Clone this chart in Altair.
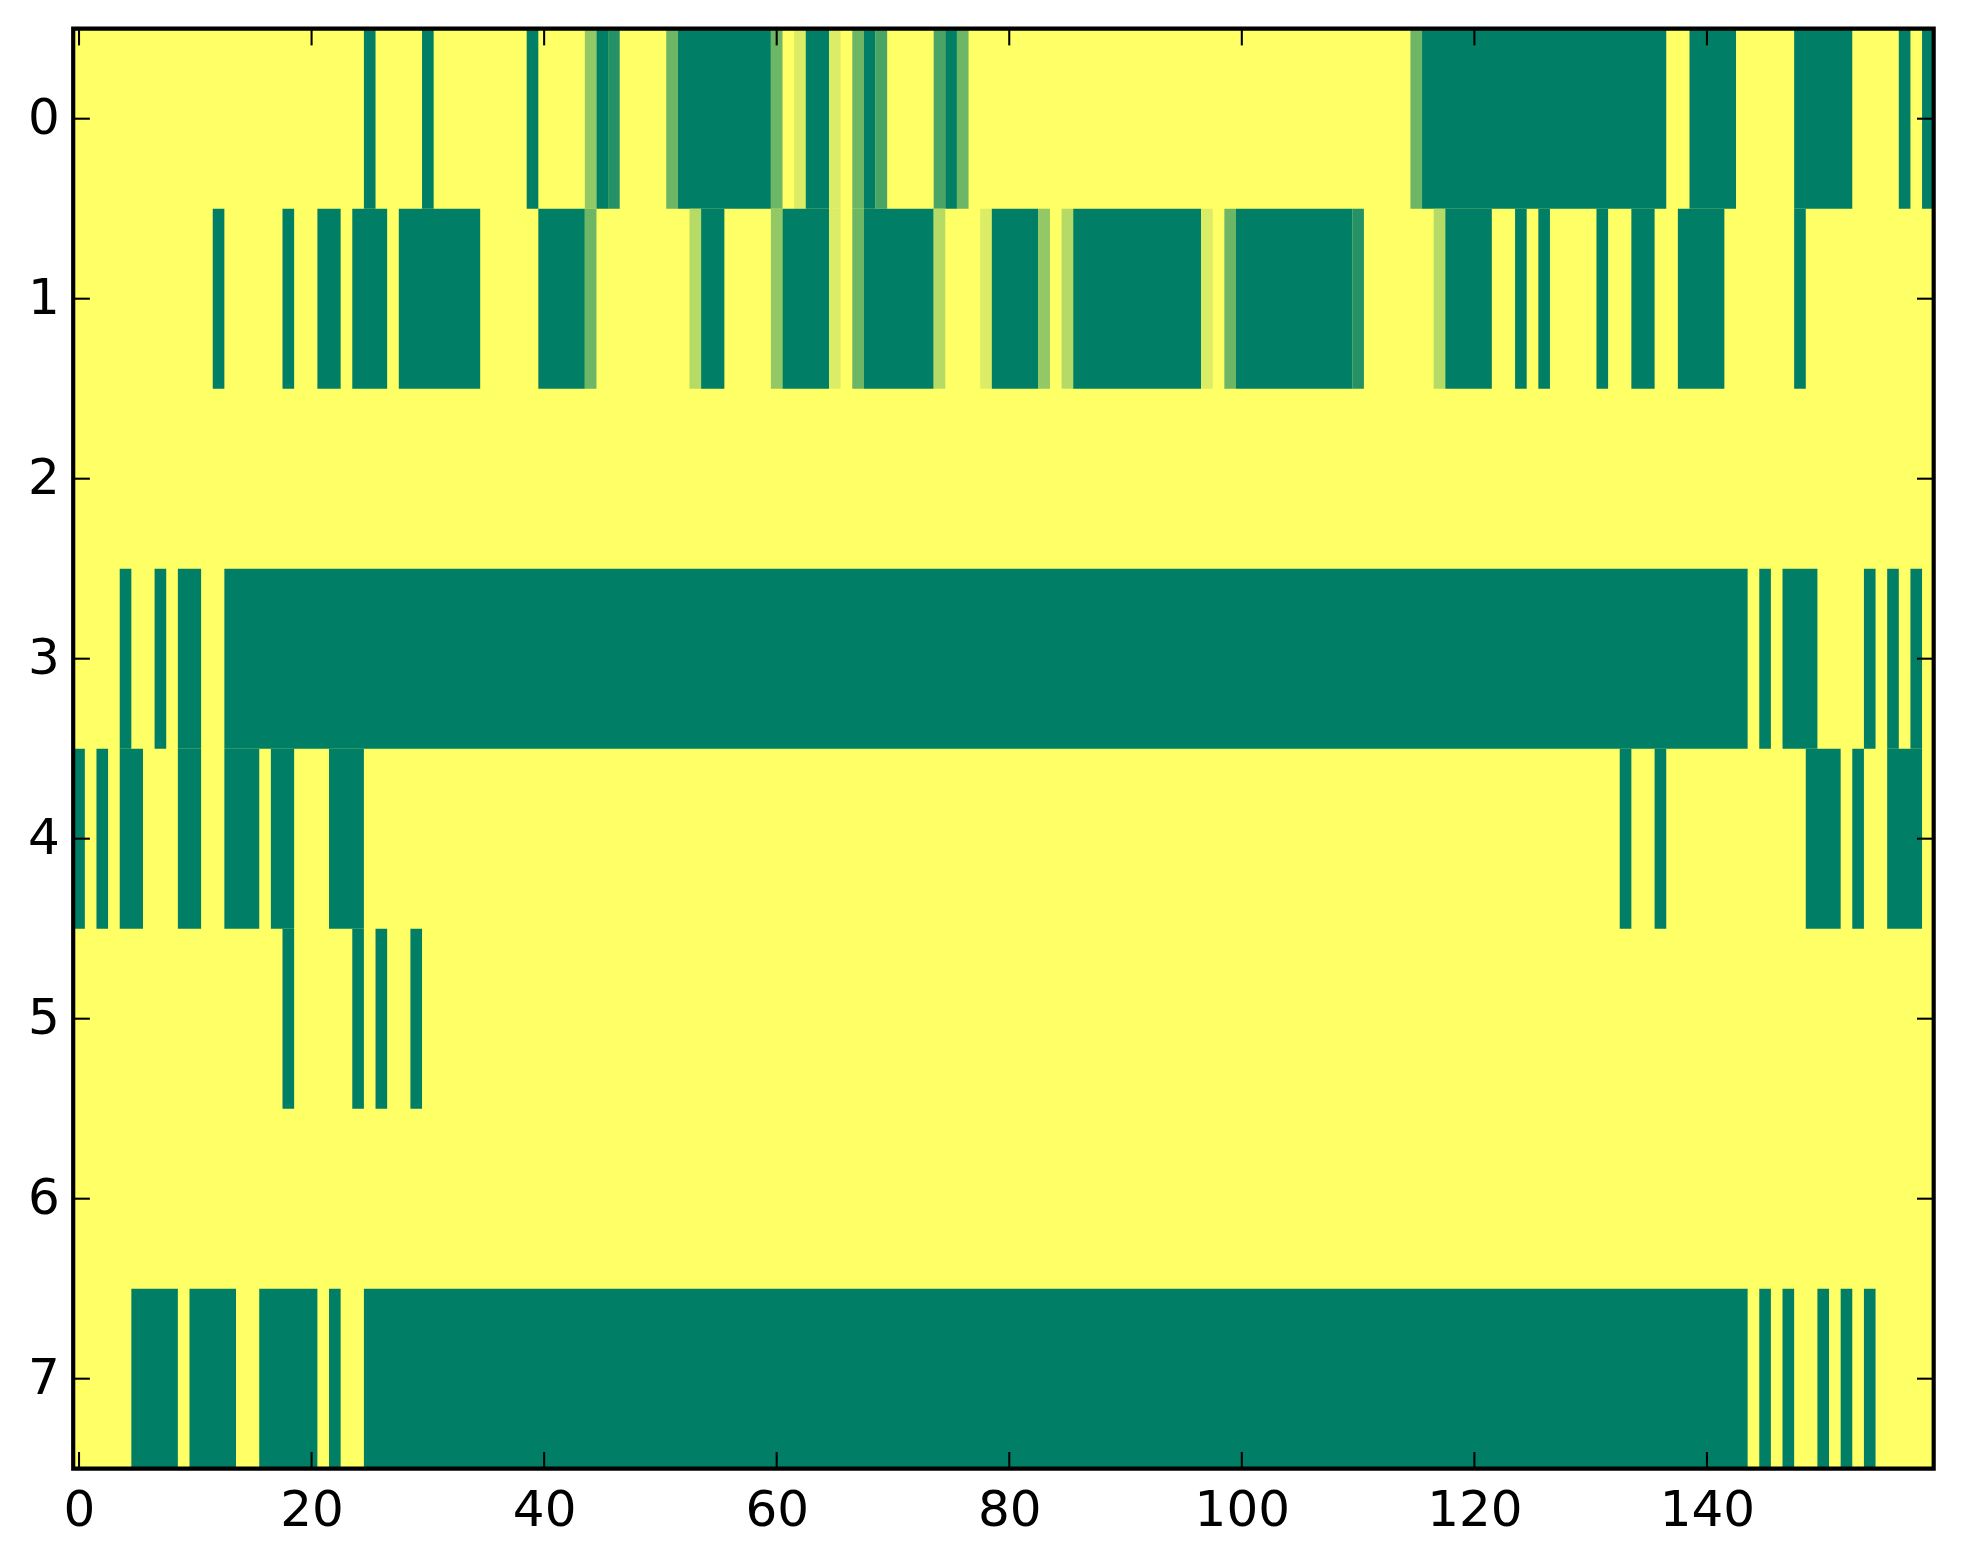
import altair as alt
import pandas as pd

N_COLS = 160
N_ROWS = 8
PLOT_W = 1860.5
PLOT_H = 1440

# Columns at full strength (level 7), per row
row0_full = [25, 30, 39, 45] + list(range(52, 60)) + [63, 64, 68, 75] + list(range(116, 137)) \
    + list(range(139, 143)) + list(range(148, 153)) + [157, 159]
row1_full = [12, 18, 21, 22, 24, 25, 26] + list(range(28, 35)) + [40, 41, 42, 43, 54, 55, 61, 62, 63, 64] \
    + list(range(68, 74)) + [79, 80, 81, 82] + list(range(86, 97)) + list(range(100, 110)) \
    + [118, 119, 120, 121, 124, 126, 131, 134, 135, 138, 139, 140, 141, 148]
row2_full = []
row3_full = [4, 7, 9, 10] + list(range(13, 144)) + [145, 147, 148, 149, 154, 156, 158]
row4_full = [0, 2, 4, 5, 9, 10, 13, 14, 15, 17, 18, 22, 23, 24, 133, 136, 149, 150, 151, 153, 156, 157, 158]
row5_full = [18, 24, 26, 29]
row6_full = []
row7_full = [5, 6, 7, 8, 10, 11, 12, 13, 16, 17, 18, 19, 20, 22] + list(range(25, 144)) \
    + [145, 147, 150, 152, 154]

# Columns at an intermediate level (sevenths)
row0_partial = {44: 3, 46: 6, 51: 4, 60: 4, 62: 1, 65: 1, 67: 4, 69: 5, 74: 5, 76: 4, 115: 4}
row1_partial = {44: 4, 53: 2, 60: 3, 65: 1, 67: 4, 74: 2, 78: 1, 83: 3, 85: 2, 97: 1, 99: 4, 110: 6, 117: 2}

rows_full = [row0_full, row1_full, row2_full, row3_full, row4_full, row5_full, row6_full, row7_full]
rows_partial = {0: row0_partial, 1: row1_partial}

x_tick_values = [0, 20, 40, 60, 80, 100, 120, 140]
y_tick_values = [0, 1, 2, 3, 4, 5, 6, 7]

records = []
for r in range(N_ROWS):
    levels = [0] * N_COLS
    for c in rows_full[r]:
        levels[c] = 7
    for c, v in rows_partial.get(r, {}).items():
        levels[c] = v
    c = 0
    while c < N_COLS:
        lv = levels[c]
        e = c
        while e + 1 < N_COLS and levels[e + 1] == lv:
            e += 1
        if lv > 0:
            records.append({"x0": c - 0.5, "x1": e + 0.5, "y0": r - 0.5, "y1": r + 0.5, "level": lv})
        c = e + 1
runs = pd.DataFrame(records)

x_scale = alt.Scale(domain=[-0.5, 159.5], nice=False, zero=False)
y_scale = alt.Scale(domain=[7.5, -0.5], nice=False, zero=False)

FONT_SIZE = 50

cells = alt.Chart(runs).mark_rect(strokeWidth=0).encode(
    x=alt.X("x0:Q", scale=x_scale, title=None,
            axis=alt.Axis(values=x_tick_values, format="d", grid=False, domain=False, ticks=False,
                          labelFont="DejaVu Sans", labelFontSize=FONT_SIZE, labelColor="#000000",
                          labelPadding=17, labelOverlap=False, labelFlush=False)),
    x2="x1:Q",
    y=alt.Y("y0:Q", scale=y_scale, title=None,
            axis=alt.Axis(values=y_tick_values, format="d", grid=False, domain=False, ticks=False,
                          labelFont="DejaVu Sans", labelFontSize=FONT_SIZE, labelColor="#000000",
                          labelPadding=14, labelOverlap=False)),
    y2="y1:Q",
    color=alt.Color("level:Q", legend=None,
                    scale=alt.Scale(domain=[0, 7], range=["#ffff66", "#007f66"], interpolate="rgb")),
)

TICK_LEN = 16.7
TICK_W = 2.08
x_df = pd.DataFrame({"t": x_tick_values})
y_df = pd.DataFrame({"t": y_tick_values})
tick_x = alt.X("t:Q", scale=x_scale, title=None)
tick_y = alt.Y("t:Q", scale=y_scale, title=None)

top_ticks = alt.Chart(x_df).mark_rule(color="black", strokeWidth=TICK_W).encode(
    x=tick_x, y=alt.value(0), y2=alt.value(TICK_LEN))
bottom_ticks = alt.Chart(x_df).mark_rule(color="black", strokeWidth=TICK_W).encode(
    x=tick_x, y=alt.value(PLOT_H - TICK_LEN), y2=alt.value(PLOT_H))
left_ticks = alt.Chart(y_df).mark_rule(color="black", strokeWidth=TICK_W).encode(
    y=tick_y, x=alt.value(0), x2=alt.value(TICK_LEN))
right_ticks = alt.Chart(y_df).mark_rule(color="black", strokeWidth=TICK_W).encode(
    y=tick_y, x=alt.value(PLOT_W - TICK_LEN), x2=alt.value(PLOT_W))

frame = alt.Chart(pd.DataFrame({"f": [0]})).mark_rect(
    fillOpacity=0, stroke="black", strokeWidth=4.17, clip=False
).encode(x=alt.value(0), x2=alt.value(PLOT_W), y=alt.value(0), y2=alt.value(PLOT_H))

chart = alt.layer(cells, top_ticks, bottom_ticks, left_ticks, right_ticks, frame).properties(
    width=PLOT_W, height=PLOT_H,
    autosize=alt.AutoSizeParams(type="none"),
    padding={"left": 65.2, "top": 20.7, "right": 21, "bottom": 87},
    background="white",
).configure_view(fill="#ffff66", stroke=None)

chart.save("out.html", embed_options={"renderer": "svg", "actions": False})
